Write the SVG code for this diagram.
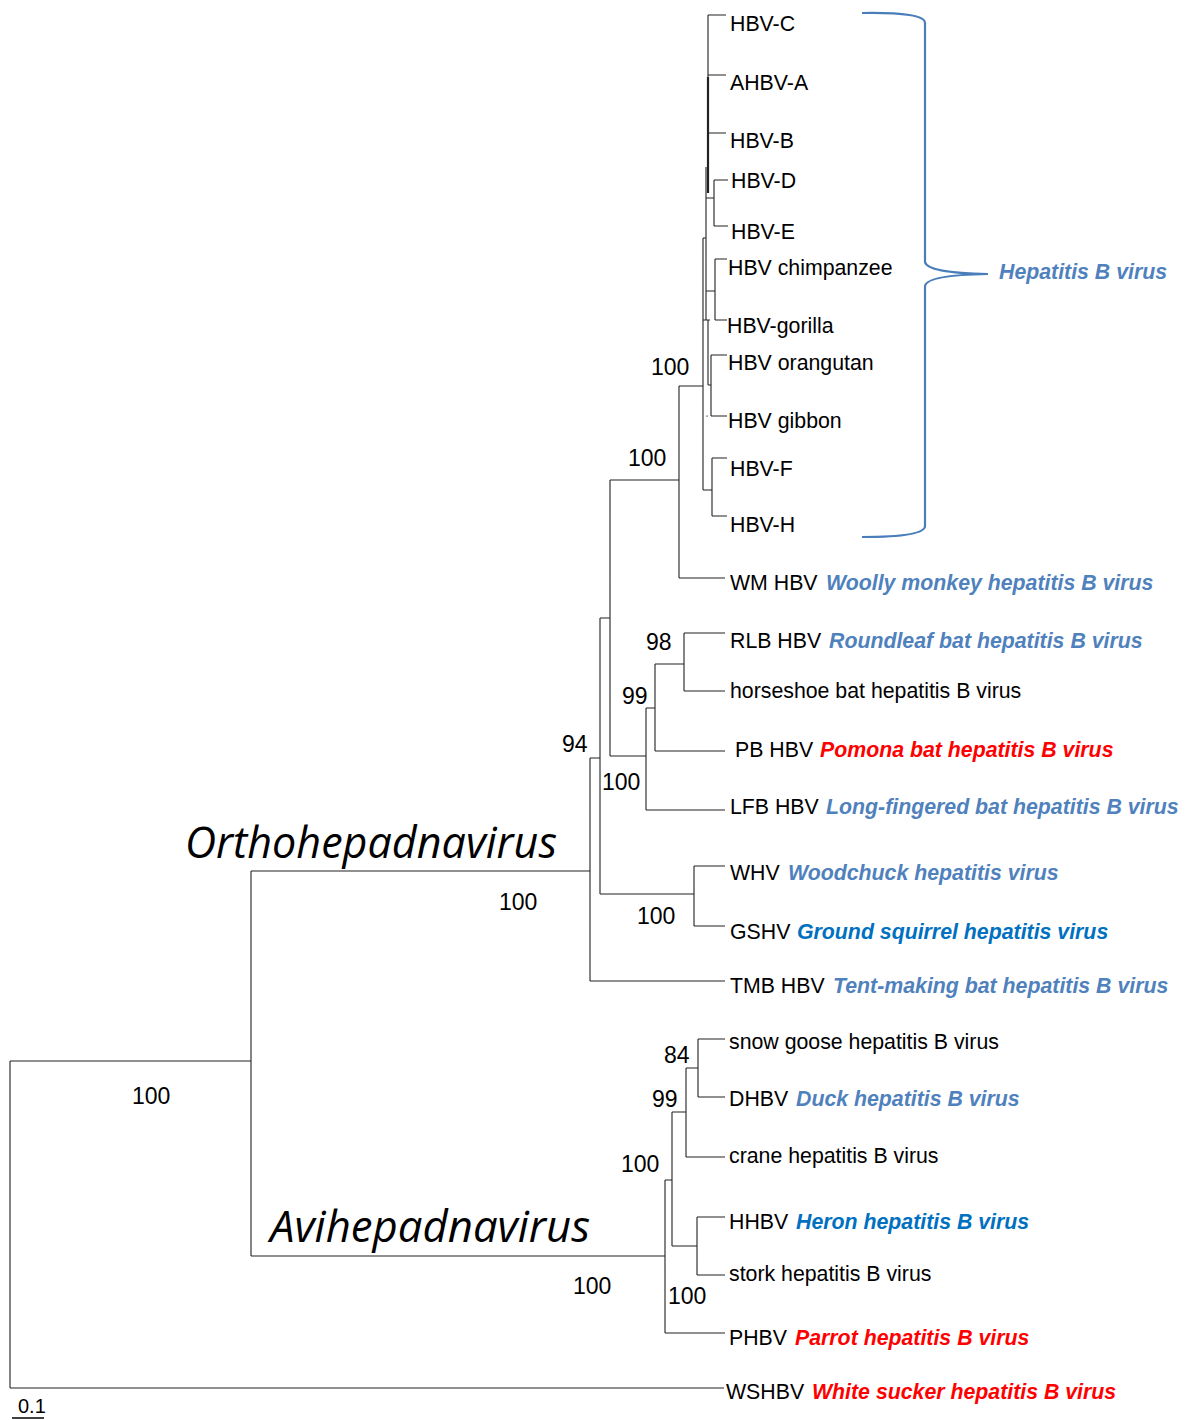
<svg xmlns="http://www.w3.org/2000/svg" width="1186" height="1420" viewBox="0 0 1186 1420">
<style>
.br{fill:none;stroke:#222;stroke-width:1.1}
.lb{font-family:"Liberation Sans",Arial,sans-serif;font-size:21.3px;fill:#000}
.sp{font-family:"Liberation Sans",Arial,sans-serif;font-size:21.3px;font-weight:bold;font-style:italic}
.lt{fill:#4F81BD}
.db{fill:#0070C0}
.rd{fill:#FF0000}
.bs{font-family:"Liberation Sans",Arial,sans-serif;font-size:23px;fill:#000}
.gn{font-family:"Open Sans","Noto Sans",sans-serif;font-style:italic;font-size:44px;fill:#000}
</style>
<rect width="1186" height="1420" fill="#fff"/>
<g id="connectors">
<path class="br" d="M10,1061V1388M10,1061H251M10,1388H724M251,871V1256M251,871H590M251,1256H665
M590,758V981M590,758H600M590,981H725M600,618V894M600,618H610M600,894H694M694,866V926M694,866H725M694,926H725
M610,480V756M610,480H679M610,756H646M646,708V810M646,708H655M646,810H725M655,664V751M655,664H684M655,751H725
M684,633V691M684,633H725M684,691H725
M679,386V578M679,386H703M679,578H725M703,238V490M703,238H706M703,490H712M712,458V516M712,458H727M712,516H727
M706,167V320M706,198H714M708,15V193M708,15H726M708,75H726M708,133H726M714,180V226M714,180H728M714,226H728
M706,291H715M715,259V320M715,259H727M715,320H727M708,320V385M708,385H711M711,355V416M711,355H727M711,416H727M703,320H710
M665,1180V1333M665,1180H672M665,1333H725M672,1112V1246M672,1112H686M672,1246H697M686,1068V1157M686,1068H698M686,1157H725
M698,1039V1097M698,1039H725M698,1097H725M697,1217V1275M697,1217H725M697,1275H725"/>
<path d="M708,77V193" stroke="#222" stroke-width="2.2" fill="none"/>
<rect x="706.5" y="415.5" width="1.2" height="1.2" fill="#333"/>
<path d="M12,1418H44" stroke="#000" stroke-width="1.5"/>
<path d="M862,13Q925,12 925,23V262Q927,273 988,274Q927,275 925,286V526Q925,537 862,537" fill="none" stroke="#4A7EBB" stroke-width="2.2"/>
</g>
<g id="bootstrap">
<text class="bs" x="651" y="375">100</text>
<text class="bs" x="628" y="466">100</text>
<text class="bs" x="646" y="650">98</text>
<text class="bs" x="622" y="704">99</text>
<text class="bs" x="562" y="752">94</text>
<text class="bs" x="602" y="790">100</text>
<text class="bs" x="637" y="924">100</text>
<text class="bs" x="499" y="910">100</text>
<text class="bs" x="132" y="1104">100</text>
<text class="bs" x="664" y="1063">84</text>
<text class="bs" x="652" y="1107">99</text>
<text class="bs" x="621" y="1172">100</text>
<text class="bs" x="573" y="1294">100</text>
<text class="bs" x="668" y="1304">100</text>
</g>
<g id="genus-ortho"><text class="gn" x="185" y="858" textLength="372" lengthAdjust="spacingAndGlyphs">Orthohepadnavirus</text></g>
<g id="genus-avi"><text class="gn" x="270" y="1242" textLength="320" lengthAdjust="spacingAndGlyphs">Avihepadnavirus</text></g>
<g id="hbv-group"><text class="sp lt" x="999" y="279">Hepatitis B virus</text></g>
<g id="hbv-c"><text class="lb" x="730" y="31">HBV-C</text></g>
<g id="ahbv-a"><text class="lb" x="730" y="90">AHBV-A</text></g>
<g id="hbv-b"><text class="lb" x="730" y="148">HBV-B</text></g>
<g id="hbv-d"><text class="lb" x="731" y="188">HBV-D</text></g>
<g id="hbv-e"><text class="lb" x="731" y="239">HBV-E</text></g>
<g id="hbv-chimp"><text class="lb" x="728" y="275">HBV chimpanzee</text></g>
<g id="hbv-gorilla"><text class="lb" x="727" y="333">HBV-gorilla</text></g>
<g id="hbv-orangutan"><text class="lb" x="728" y="370">HBV orangutan</text></g>
<g id="hbv-gibbon"><text class="lb" x="728" y="428">HBV gibbon</text></g>
<g id="hbv-f"><text class="lb" x="730" y="476">HBV-F</text></g>
<g id="hbv-h"><text class="lb" x="730" y="532">HBV-H</text></g>
<g id="wmhbv"><text class="lb" x="730" y="590">WM HBV</text><text class="sp lt" x="826" y="590">Woolly monkey hepatitis B virus</text></g>
<g id="rlbhbv"><text class="lb" x="730" y="648">RLB HBV</text><text class="sp lt" x="829" y="648">Roundleaf bat hepatitis B virus</text></g>
<g id="horseshoe"><text class="lb" x="730" y="698">horseshoe bat hepatitis B virus</text></g>
<g id="pbhbv"><text class="lb" x="735" y="757">PB HBV</text><text class="sp rd" x="820" y="757">Pomona bat hepatitis B virus</text></g>
<g id="lfbhbv"><text class="lb" x="730" y="814">LFB HBV</text><text class="sp lt" x="826" y="814">Long-fingered bat hepatitis B virus</text></g>
<g id="whv"><text class="lb" x="730" y="880">WHV</text><text class="sp lt" x="788" y="880">Woodchuck hepatitis virus</text></g>
<g id="gshv"><text class="lb" x="730" y="939">GSHV</text><text class="sp db" x="797" y="939">Ground squirrel hepatitis virus</text></g>
<g id="tmbhbv"><text class="lb" x="730" y="993">TMB HBV</text><text class="sp lt" x="833" y="993">Tent-making bat hepatitis B virus</text></g>
<g id="snowgoose"><text class="lb" x="729" y="1049">snow goose hepatitis B virus</text></g>
<g id="dhbv"><text class="lb" x="729" y="1106">DHBV</text><text class="sp lt" x="796" y="1106">Duck hepatitis B virus</text></g>
<g id="crane"><text class="lb" x="729" y="1163">crane hepatitis B virus</text></g>
<g id="hhbv"><text class="lb" x="729" y="1229">HHBV</text><text class="sp db" x="796" y="1229">Heron hepatitis B virus</text></g>
<g id="stork"><text class="lb" x="729" y="1281">stork hepatitis B virus</text></g>
<g id="phbv"><text class="lb" x="729" y="1345">PHBV</text><text class="sp rd" x="795" y="1345">Parrot hepatitis B virus</text></g>
<g id="wshbv"><text class="lb" x="726" y="1399">WSHBV</text><text class="sp rd" x="812" y="1399">White sucker hepatitis B virus</text></g>
<g id="scale"><text class="lb" x="18" y="1413" style="font-size:20px">0.1</text></g>
</svg>
